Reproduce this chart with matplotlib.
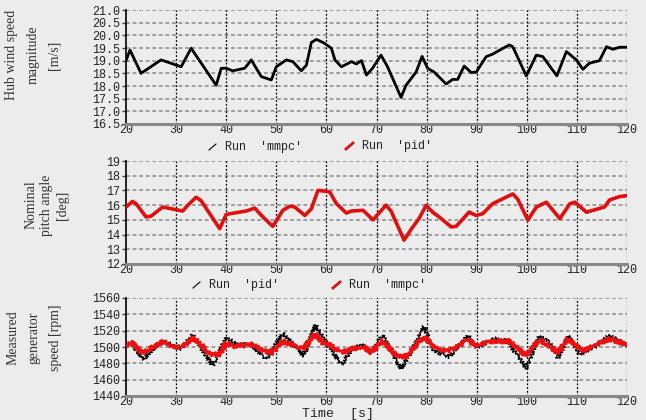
import matplotlib
matplotlib.use("Agg")
import matplotlib.pyplot as plt
from matplotlib.lines import Line2D

# ---------------- data ----------------
wind_t = [20, 20.8, 23, 27, 31, 33, 38, 39, 40, 41.3, 43.7, 45, 47, 49, 50, 52, 53.3,
          55, 56, 57, 58, 59.5, 61, 61.7, 63, 65, 66, 67, 68, 69.2, 70.9, 72.2, 74.9,
          75.9, 77.9, 79.1, 80.2, 81.5, 83.9, 85.2, 86.2, 87.5, 88.9, 89.9, 91.9, 93.2,
          94.9, 96.5, 97.2, 99.9, 101.9, 103.2, 106, 107.9, 109.9, 111.2, 112.5, 114.5,
          115.9, 117.2, 118.5, 120]
wind_v = [19.0, 19.42, 18.5, 19.03, 18.76, 19.49, 18.03, 18.7, 18.7, 18.6, 18.7, 19.03,
          18.37, 18.24, 18.76, 19.03, 18.96, 18.6, 18.82, 19.72, 19.84, 19.7, 19.49, 19.03,
          18.76, 18.96, 18.87, 19.0, 18.43, 18.7, 19.22, 18.76, 17.55, 18.03, 18.55, 19.17,
          18.7, 18.55, 18.08, 18.26, 18.26, 18.79, 18.53, 18.55, 19.16, 19.26, 19.45, 19.62,
          19.55, 18.4, 19.22, 19.16, 18.4, 19.36, 19.03, 18.66, 18.9, 19.0, 19.55, 19.45,
          19.53, 19.53]

pitch_t = [20, 21.3, 22, 24, 25, 27.3, 28.7, 31.3, 32.3, 34, 35, 38.7, 40, 41.3, 44, 45.7,
           47.3, 49.3, 51.3, 52.7, 53.7, 55.7, 57, 58.3, 60, 60.7, 62, 64, 65, 67.3, 69.3,
           71.9, 72.9, 75.5, 76.9, 78.5, 79.9, 81.2, 82.5, 84.9, 85.9, 88.5, 89.9, 91.2,
           93.2, 95.9, 97.2, 98.2, 100.2, 101.9, 103.9, 106.6, 108.6, 109.6, 111.9, 113.2,
           115.5, 116.5, 118.5, 120]
pitch_mmpc = [15.87, 16.25, 16.1, 15.2, 15.25, 15.87, 15.78, 15.6, 15.98, 16.54, 16.3,
              14.4, 15.37, 15.45, 15.6, 15.8, 15.2, 14.56, 15.65, 15.93, 15.87, 15.3, 15.75,
              17.0, 16.95, 16.88, 16.1, 15.46, 15.6, 15.65, 15.0, 16.0, 15.6, 13.62, 14.35,
              15.1, 15.98, 15.53, 15.2, 14.52, 14.56, 15.53, 15.3, 15.42, 16.1, 16.55, 16.76,
              16.4, 14.98, 15.87, 16.2, 15.08, 16.1, 16.2, 15.53, 15.65, 15.87, 16.35, 16.58,
              16.65]
pitch_pid = [15.85, 16.2, 16.05, 15.25, 15.3, 15.85, 15.75, 15.62, 15.95, 16.5, 16.25,
             14.5, 15.35, 15.42, 15.58, 15.78, 15.25, 14.62, 15.6, 15.9, 15.85, 15.35, 15.7,
             16.95, 16.9, 16.85, 16.05, 15.5, 15.62, 15.6, 14.95, 15.95, 15.55, 13.75, 14.3,
             15.05, 15.9, 15.45, 15.15, 14.6, 14.6, 15.45, 15.25, 15.4, 16.05, 16.5, 16.7,
             16.35, 15.05, 15.8, 16.15, 15.05, 16.05, 16.15, 15.45, 15.6, 15.85, 16.3, 16.55,
             16.6]

gen_red_t = [20, 21.3, 23.3, 25.7, 27.3, 29.3, 31, 33.3, 34.7, 36.7, 38.7, 40, 41.3, 45.3,
             47.7, 49.3, 51.3, 53.3, 55.3, 57.7, 59.3, 60, 63, 65.3, 67.3, 68.9, 71.2, 74.2,
             76.2, 78.2, 79.5, 81.5, 84.2, 86.5, 88.2, 89.9, 92.5, 96.5, 99.9, 102.5, 104.5,
             106.2, 108.2, 111.2, 113.9, 116.5, 120]
gen_red = [1503, 1505, 1493, 1501, 1507, 1501, 1499, 1511, 1505, 1491, 1491, 1505, 1501,
           1503, 1495, 1493, 1507, 1503, 1497, 1516, 1505, 1505, 1493, 1498, 1501, 1493,
           1508, 1488, 1489, 1505, 1513, 1499, 1495, 1501, 1509, 1501, 1507, 1507, 1489,
           1509, 1501, 1493, 1510, 1495, 1503, 1510, 1503]

gen_blk_t = [20, 21, 23.5, 27, 31, 33.3, 37.3, 40, 42, 45, 48, 51.3, 55.5, 57.8, 60, 63,
             65, 67, 68.9, 71.2, 74.9, 77, 79.5, 81.5, 84.5, 88.3, 90, 93.5, 96, 99.9,
             102.5, 104.5, 106.3, 108.3, 110.5, 113.5, 116.5, 120]
gen_blk = [1503, 1505, 1485, 1508, 1498, 1515, 1477, 1512, 1503, 1503, 1485, 1517, 1489,
           1527, 1505, 1478, 1497, 1503, 1493, 1514, 1473, 1495, 1525, 1495, 1488, 1514,
           1500, 1510, 1508, 1474, 1514, 1506, 1486, 1514, 1491, 1500, 1514, 1502]

xticks = list(range(20, 121, 10))
wind_ticks = [16.5, 17.0, 17.5, 18.0, 18.5, 19.0, 19.5, 20.0, 20.5, 21.0]
pitch_ticks = [12, 13, 14, 15, 16, 17, 18, 19]
gen_ticks = [1440, 1460, 1480, 1500, 1520, 1540, 1560]

# ---------------- style ----------------
BG = "#ececec"
W, H = 646, 420
fig = plt.figure(figsize=(W / 100, H / 100), dpi=100, facecolor=BG)
MONO = "Liberation Mono"
SERIF = "Liberation Serif"


def box(top, bottom, left=126, right=627):
    return [left / W, 1 - bottom / H, (right - left) / W, (bottom - top) / H]


def style(ax, yticks, fmt):
    ax.set_facecolor(BG)
    ax.set_xlim(20, 120)
    ax.set_ylim(yticks[0], yticks[-1])
    ax.set_xticks(xticks)
    ax.set_yticks(yticks)
    ax.set_xticklabels([str(v) for v in xticks], family=MONO, fontsize=8.5, color="#222")
    ax.set_yticklabels([fmt(v) for v in yticks], family=MONO, fontsize=8.5, color="#222")
    for s in ("top", "right"):
        ax.spines[s].set_visible(False)
    ax.spines["left"].set_color("black")
    ax.spines["left"].set_linewidth(1.2)
    ax.spines["bottom"].set_color("#888888")
    ax.spines["bottom"].set_linewidth(2.2)
    ax.tick_params(axis="y", length=3, width=1, color="#444", pad=1)
    ax.tick_params(axis="x", length=0, pad=0)
    for y in yticks[1:]:
        ax.axhline(y, color="#888888", lw=1.1, ls=(0, (2.5, 1.8)), zorder=0.5)
    for x in xticks[1:]:
        ax.axvline(x, color="black", lw=0.9, ls=(0, (1.5, 1.5)), zorder=0.6)


ax1 = fig.add_axes(box(10, 124))
ax2 = fig.add_axes(box(161, 264))
ax3 = fig.add_axes(box(298, 396))

style(ax1, wind_ticks, lambda v: f"{v:.1f}")
style(ax2, pitch_ticks, lambda v: f"{v:d}")
style(ax3, gen_ticks, lambda v: f"{v:d}")

ax1.plot(wind_t, wind_v, color="black", lw=2.0, solid_joinstyle="round", zorder=3)

ax2.plot(pitch_t, pitch_mmpc, color="#e01010", lw=2.6, solid_joinstyle="round", zorder=3)
ax2.plot(pitch_t, pitch_pid, color="black", lw=0.9, zorder=2.5)

lb, = ax3.plot(gen_blk_t, gen_blk, color="black", lw=1.0, zorder=2.5)
lb.set_sketch_params(2.0, 3.0, 2.0)
lr, = ax3.plot(gen_red_t, gen_red, color="#ee1010", lw=2.0, zorder=3)
lr.set_sketch_params(2.0, 3.0, 2.0)

# y labels
lab_kw = dict(rotation=90, ha="center", va="center", family=SERIF, fontsize=10,
              color="#333333", linespacing=1.8)
fig.text(33 / W, 1 - 55 / H, "Hub wind speed\nmagnitude\n[m/s]", **lab_kw)
fig.text(47 / W, 1 - 205 / H, "Nominal\npitch angle\n[deg]", **dict(lab_kw, linespacing=1.3))
fig.text(34 / W, 1 - 338 / H, "Measured\ngenerator\nspeed [rpm]", **lab_kw)

# legend-like captions
leg_kw = dict(family=MONO, fontsize=8.5, va="center", ha="left", color="#222")


def caption(x_mark, y, text, color, lw):
    fig.add_artist(Line2D([(x_mark - 4) / W, (x_mark + 3) / W],
                          [1 - (y + 3) / H, 1 - (y - 3) / H],
                          color=color, lw=lw, transform=fig.transFigure))
    fig.text((x_mark + 12) / W, 1 - y / H, text, **leg_kw)


caption(213, 147, "Run  'mmpc'", "black", 0.8)
caption(350, 146, "Run  'pid'", "#e01010", 2.0)
caption(197, 285, "Run  'pid'", "black", 0.8)
caption(337, 285, "Run  'mmpc'", "#e01010", 2.0)

fig.text(338 / W, 1 - 407.5 / H, "Time  [s]", family=MONO, fontsize=9.5, ha="center",
         va="top", color="#222")

fig.savefig("out.png", dpi=100, facecolor=BG)
